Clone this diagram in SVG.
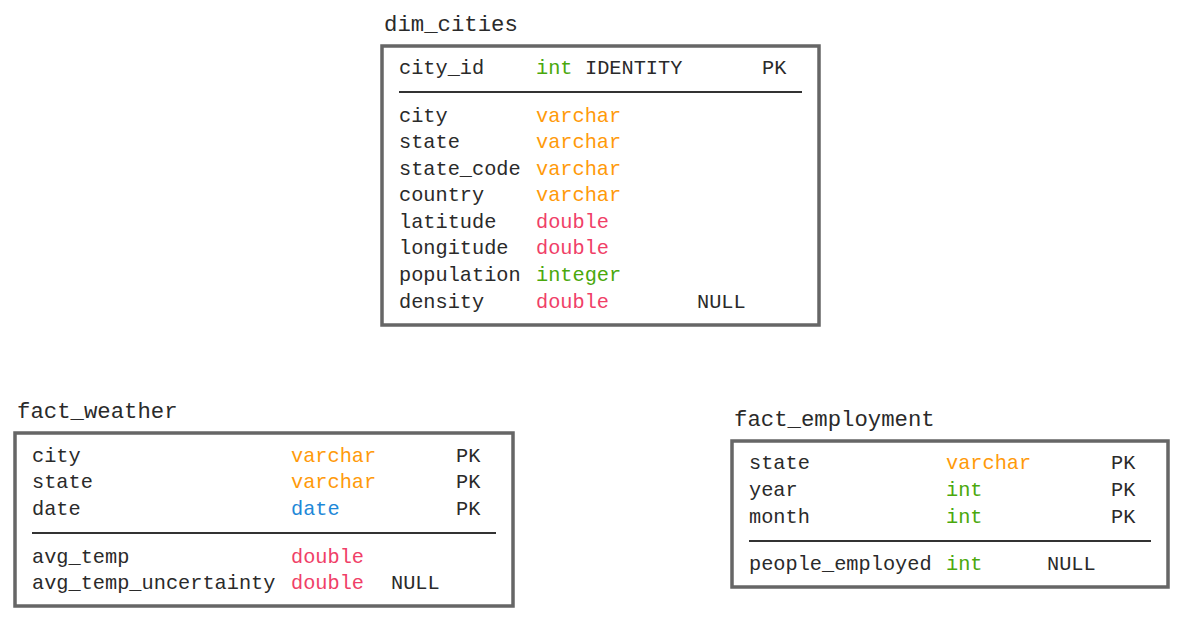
<svg xmlns="http://www.w3.org/2000/svg" width="1193" height="623" viewBox="0 0 1193 623">
<style>
text{font-family:"Liberation Mono","DejaVu Sans Mono",monospace;font-size:20.3px;fill:#2a2a2a}
.title{font-size:22.3px}
.box{fill:#fff;stroke:#666;stroke-width:3.5}
.sep{stroke:#333;stroke-width:2}
.vc{fill:#ff9a0a}
.in{fill:#4aa80c}
.db{fill:#f03f68}
.dt{fill:#1e88d8}
</style>
<rect width="1193" height="623" fill="#fff"/>
<g id="dim_cities">
<text class="title" x="384" y="31">dim_cities</text>
<rect class="box" x="382" y="46" width="437" height="279"/>
<text x="399" y="74">city_id</text><text class="in" x="536" y="74">int</text><text x="585" y="74">IDENTITY</text><text x="762" y="74">PK</text>
<line class="sep" x1="399" y1="92" x2="802" y2="92"/>
<text x="399" y="122">city</text><text class="vc" x="536" y="122">varchar</text>
<text x="399" y="148">state</text><text class="vc" x="536" y="148">varchar</text>
<text x="399" y="175">state_code</text><text class="vc" x="536" y="175">varchar</text>
<text x="399" y="201">country</text><text class="vc" x="536" y="201">varchar</text>
<text x="399" y="228">latitude</text><text class="db" x="536" y="228">double</text>
<text x="399" y="254">longitude</text><text class="db" x="536" y="254">double</text>
<text x="399" y="281">population</text><text class="in" x="536" y="281">integer</text>
<text x="399" y="308">density</text><text class="db" x="536" y="308">double</text><text x="697" y="308">NULL</text>
</g>
<g id="fact_weather">
<text class="title" x="17" y="418">fact_weather</text>
<rect class="box" x="15" y="433" width="498" height="173"/>
<text x="32" y="462">city</text><text class="vc" x="291" y="462">varchar</text><text x="456" y="462">PK</text>
<text x="32" y="488">state</text><text class="vc" x="291" y="488">varchar</text><text x="456" y="488">PK</text>
<text x="32" y="515">date</text><text class="dt" x="291" y="515">date</text><text x="456" y="515">PK</text>
<line class="sep" x1="32" y1="533" x2="496" y2="533"/>
<text x="32" y="563">avg_temp</text><text class="db" x="291" y="563">double</text>
<text x="32" y="589">avg_temp_uncertainty</text><text class="db" x="291" y="589">double</text><text x="391" y="589">NULL</text>
</g>
<g id="fact_employment">
<text class="title" x="734" y="426">fact_employment</text>
<rect class="box" x="732" y="441" width="436" height="146"/>
<text x="749" y="469">state</text><text class="vc" x="946" y="469">varchar</text><text x="1111" y="469">PK</text>
<text x="749" y="496">year</text><text class="in" x="946" y="496">int</text><text x="1111" y="496">PK</text>
<text x="749" y="523">month</text><text class="in" x="946" y="523">int</text><text x="1111" y="523">PK</text>
<line class="sep" x1="749" y1="541" x2="1151" y2="541"/>
<text x="749" y="570">people_employed</text><text class="in" x="946" y="570">int</text><text x="1047" y="570">NULL</text>
</g>
<g id="connectors"></g>
</svg>
